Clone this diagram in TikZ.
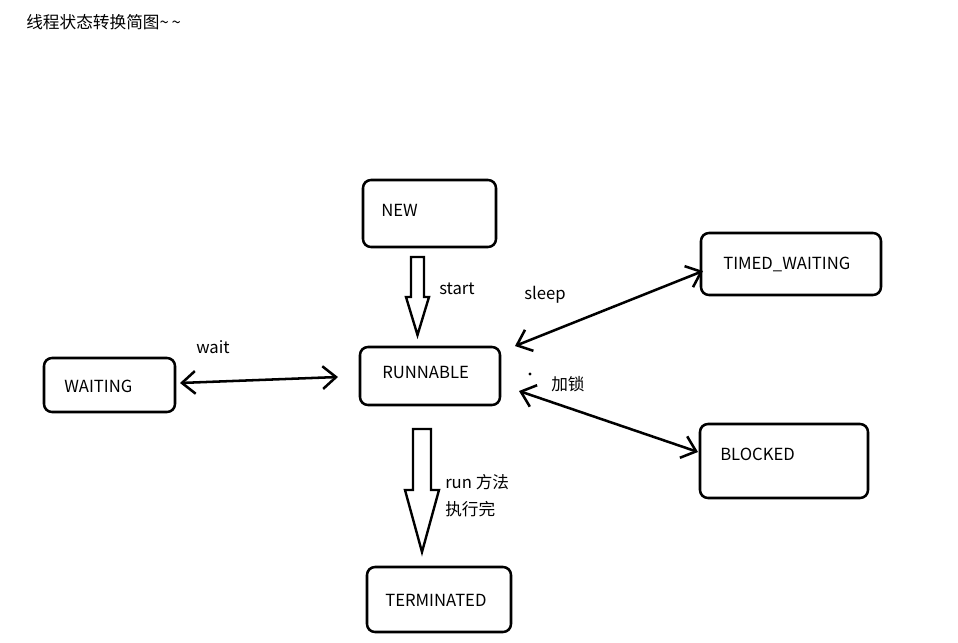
\documentclass[tikz,border=0pt]{standalone}
\usepackage{fontspec}
\setmainfont{Noto Sans CJK SC}
\usetikzlibrary{arrows.meta,fit}

\tikzset{
  state/.style={draw, rounded corners=6pt, line width=1.9pt, inner sep=0pt},
  txt/.style={anchor=west, inner sep=0pt, font=\fontsize{12.5}{15}\selectfont},
  dbl/.style={line width=1.9pt,
    {Straight Barb[length=10pt,width=17pt]}-{Straight Barb[length=10pt,width=17pt]}},
  fat/.style={line width=1.8pt, line join=miter}
}

\begin{document}
\begin{tikzpicture}[x=0.75pt,y=-0.75pt]
\useasboundingbox (0,0) rectangle (958,643);

\node[txt] (title) at (26,22) {线程状态转换简图\textasciitilde\,\textasciitilde};

\node[state, fit={(363,180) (496,247)}] (new) {};
\node[state, fit={(360,347) (500,405)}] (runnable) {};
\node[state, fit={(367,567) (511,632)}] (terminated) {};
\node[state, fit={(44,358) (175,412)}] (waiting) {};
\node[state, fit={(701,233) (881,295)}] (timed) {};
\node[state, fit={(700,424) (868,498)}] (blocked) {};

\node[txt] (newtxt) at (381,210) {NEW};
\node[txt] (runnabletxt) at (382,372) {RUNNABLE};
\node[txt] (terminatedtxt) at (385,600) {TERMINATED};
\node[txt] (waitingtxt) at (64,386) {WAITING};
\node[txt] (timedtxt) at (723,264) {TIMED\_WAITING};
\node[txt] (blockedtxt) at (720,454) {BLOCKED};

% hollow arrows
\draw[fat] (411,257)--(424,257)--(424,297)--(429,297)--(417.5,335)
  --(406,297)--(411,297)--cycle;
\draw[fat] (413,429)--(431,429)--(431,490)--(439,490)--(422,552)
  --(405,490)--(413,490)--cycle;

\coordinate (waitL) at (180,383);
\coordinate (waitR) at (338,377);
\coordinate (sleepL) at (515,346);
\coordinate (sleepR) at (703,271);
\coordinate (lockL) at (519,391);
\coordinate (lockR) at (698,452);

\draw[dbl] (waitL) -- (waitR);
\draw[dbl] (sleepL) -- (sleepR);
\draw[dbl] (lockL) -- (lockR);

\fill (530,374) circle (1.6);

\node[txt] (start) at (439,289) {start};
\node[txt] (sleep) at (524,295) {sleep};
\node[txt] (wait) at (196,347) {wait};
\node[txt] (lock) at (551,384) {加锁};
\node[txt] (run) at (445,482) {run 方法};
\node[txt] (done) at (445,509) {执行完};
\end{tikzpicture}
\end{document}
